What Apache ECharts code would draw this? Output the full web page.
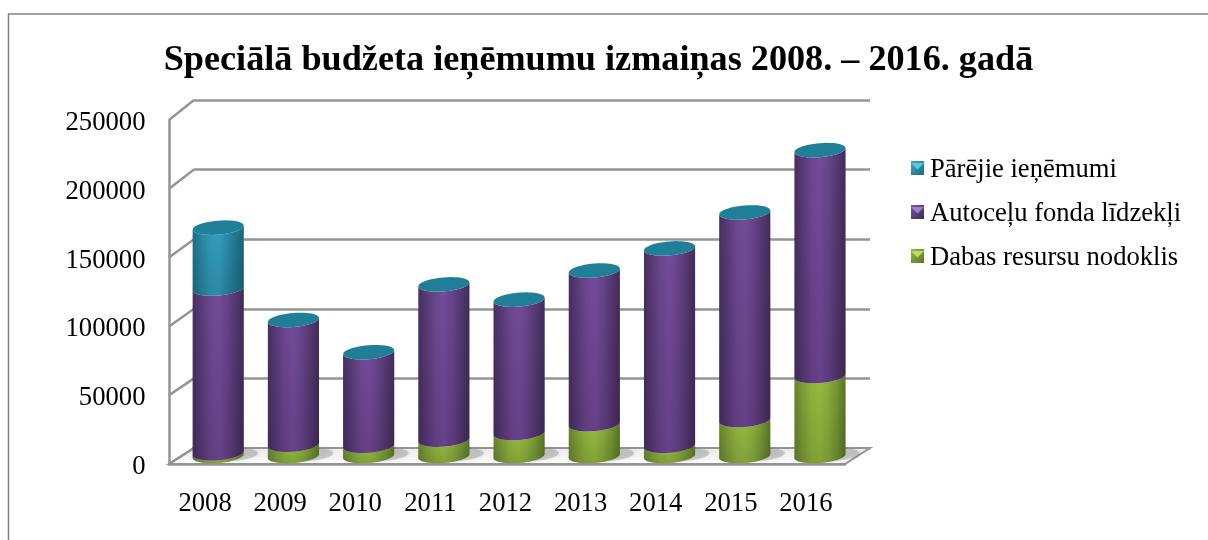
<!DOCTYPE html>
<html><head><meta charset="utf-8">
<style>html,body{margin:0;padding:0;background:#fff}#c{width:1208px;height:540px}</style>
<script src="https://cdn.jsdelivr.net/npm/echarts@6/dist/echarts.min.js"></script>
</head><body><div id="c"></div>
<script>
const years = ['2008','2009','2010','2011','2012','2013','2014','2015','2016'];
const dabas = [2000, 8200, 7400, 11800, 16600, 23000, 7400, 26000, 57800];
const autoceli = [119000, 90100, 67600, 112200, 96400, 111000, 142600, 150000, 163200];
const parejie = [44000, 0, 0, 0, 0, 0, 0, 0, 0];
const NAME_P = 'Pārējie ieņēmumi', NAME_A = 'Autoceļu fonda līdzekļi', NAME_D = 'Dabas resursu nodoklis';
const FONT = '"Liberation Serif","Times New Roman",serif';
const MAX = 250000, GRAY = '#949494';

const grad = (stops) => ({type:'linear',x:0,y:0,x2:1,y2:0,colorStops:stops.map((c,i)=>({offset:i/(stops.length-1),color:c}))});
const PURPLE = grad(['#46305f','#593b78','#6c4790','#744c9a','#67448c','#553870','#412c59']);
const GREEN = grad(['#668530','#7f9f36','#8fb53c','#96bd3f','#8aae3a','#749632','#5a7528']);
const CYAN = grad(['#1f7088','#2787a3','#2f9ab8','#33a0be','#2a8dab','#217a94','#1b6679']);
const CAP = '#1f7f98';

// elliptical arc with a slight shear so the right end sits higher than the left
const RY = 7, TILT = 2;
function arc(cx, cy, a, from, to, n) {
  const pts = [];
  for (let k = 0; k <= n; k++) {
    const t = from + (to - from) * k / n;
    pts.push([cx + a * Math.cos(t), cy + RY * Math.sin(t) - TILT * Math.cos(t)]);
  }
  return pts;
}
function cylinder(fill, capFor) {
  return function (params, api) {
    const i = api.value(0), lo = api.value(1), hi = api.value(2);
    const pLo = api.coord([i, lo]), pHi = api.coord([i, hi]);
    const a = api.size([1, 0])[0] * 0.34;
    const children = [];
    if (hi > lo) {
      const shape = arc(pLo[0], pLo[1], a, 0, Math.PI, 24).concat(arc(pHi[0], pHi[1], a, Math.PI, 0, 24));
      children.push({type:'polygon', shape:{points:shape}, style:{fill:fill}});
      children.push({type:'polygon', shape:{points:shape}, silent:true, style:{fill:{type:'linear',x:0,y:0,x2:0,y2:1,colorStops:[{offset:0,color:'rgba(0,0,0,0)'},{offset:1,color:'rgba(20,0,30,0.14)'}]}}});
    }
    if (capFor && capFor(i)) {
      children.push({type:'polygon', shape:{points:arc(pHi[0], pHi[1], a, 0, Math.PI*2, 48)}, style:{fill:CAP}});
    }
    return {type:'group', children};
  };
}
const seg = (vals, base) => vals.map((v, i) => [i, base[i], base[i] + v]);
const zero = years.map(() => 0);
const b2 = dabas.map((v, i) => v + autoceli[i]);

const chart = echarts.init(document.getElementById('c'), null, {renderer:'canvas'});
const backGrid = {left:194, right:1208-870, top:100, bottom:540-448};
const frontGrid = {left:169, right:1208-845, top:120, bottom:540-464};
const midGrid = {left:180.6, right:1208-857.6, top:110, bottom:540-456};

const legendIcon = (c1, c2) => ({color:{type:'linear',x:0,y:0,x2:1,y2:1,colorStops:[{offset:0,color:c1},{offset:1,color:c2}]}});
const LEG_X = 911, LEG_Y = [163, 207, 251], LEG_LIGHT = ['#5cc6e0','#a07fc4','#bcdc62'];

chart.setOption({
  animation:false,
  backgroundColor:'#fff',
  title:{text:'Speciālā budžeta ieņēmumu izmaiņas 2008. – 2016. gadā', left:593.5, top:38, textAlign:'center',
    textStyle:{fontFamily:FONT, fontWeight:'bold', fontSize:36.2, color:'#000'}},
  legend:{orient:'vertical', left:LEG_X, top:156.5, padding:0, itemWidth:13, itemHeight:14, itemGap:17, icon:'rect', selectedMode:false,
    formatter:n=>'{a|'+n+'}',
    textStyle:{fontFamily:FONT, fontSize:26.6, color:'#000',
      rich:{a:{fontFamily:FONT, fontSize:26.6, color:'#000', padding:[4,0,0,1]}}},
    data:[
      {name:NAME_P, itemStyle:legendIcon('#3aa5c2','#1d6b80')},
      {name:NAME_A, itemStyle:legendIcon('#7a55a0','#3f2a5c')},
      {name:NAME_D, itemStyle:legendIcon('#95bc40','#5b7628')}
    ]},
  graphic:[{type:'rect', silent:true, z:-10, shape:{x:8.5,y:14,width:1400,height:800}, style:{fill:'none',stroke:'#808080',lineWidth:1.5}}]
    .concat(LEG_Y.map((y,i)=>({type:'polygon', silent:true, z:100, shape:{points:[[LEG_X,y],[LEG_X+13,y],[LEG_X+6.5,y+6.5]]}, style:{fill:LEG_LIGHT[i]}}))),
  grid:[backGrid, frontGrid, midGrid],
  xAxis:[
    {gridIndex:0,type:'category',data:years,show:false},
    {gridIndex:1,type:'category',data:years,axisTick:{show:false},axisLine:{show:true,lineStyle:{color:GRAY,width:2.5}},
     axisLabel:{fontFamily:FONT,fontSize:26.67,color:'#000',margin:26,padding:[0,3,0,0]}},
    {gridIndex:2,type:'category',data:years,show:false}
  ],
  yAxis:[
    {gridIndex:0,type:'value',min:0,max:MAX,interval:50000,axisLabel:{show:false},axisLine:{show:false},axisTick:{show:false},
     splitLine:{show:true,lineStyle:{color:GRAY,width:2.5}}},
    {gridIndex:1,type:'value',min:0,max:MAX,interval:50000,splitLine:{show:false},axisTick:{show:false},
     axisLine:{show:true,lineStyle:{color:GRAY,width:2.5}},
     axisLabel:{fontFamily:FONT,fontSize:26.67,color:'#000',margin:23.5,formatter:v=>'{a|'+v+'}',
       rich:{a:{fontFamily:FONT,fontSize:26.67,color:'#000',padding:[6,0,0,0]}}}},
    {gridIndex:2,type:'value',min:0,max:MAX,interval:50000,show:false}
  ],
  series:[
    {type:'custom', name:'floor', xAxisIndex:1, yAxisIndex:1, silent:true, z:1, clip:false, data:[[0,0]],
     renderItem(p, api){
       const s = p.coordSys, L = s.x, R = s.x + s.width, B = s.y + s.height;
       return {type:'polygon', shape:{points:[[L,B],[R,B],[R+25,B-16],[L+25,B-16]]},
         style:{fill:{type:'linear',x:0,y:0,x2:0,y2:1,colorStops:[{offset:0,color:'#e9e9e9'},{offset:1,color:'#ffffff'}]}, stroke:GRAY, lineWidth:2}};
     }},
    {type:'custom', name:'walls', xAxisIndex:1, yAxisIndex:1, silent:true, z:2, clip:false,
     encode:{y:0}, data:[250000,200000,150000,100000,50000,0].map(v=>[v]),
     renderItem(p, api){
       const s = p.coordSys, v = api.value(0);
       const y = api.coord([0, v])[1];
       return {type:'line', shape:{x1:s.x, y1:y, x2:s.x+25, y2:y-(16+4*v/MAX)}, style:{stroke:GRAY, lineWidth:2.5}};
     }},
    {type:'custom', name:'shadow', xAxisIndex:2, yAxisIndex:2, silent:true, z:3, clip:false, data:years.map((_,i)=>[i,0]),
     renderItem(p, api){
       const c = api.coord([api.value(0), 0]);
       return {type:'polygon', shape:{points:arc(c[0]+7, c[1]-1, 33, 0, Math.PI*2, 40)},
         style:{fill:'rgba(110,110,110,0.30)', shadowBlur:5, shadowColor:'rgba(110,110,110,0.4)'}};
     }},
    {type:'custom', name:NAME_D, xAxisIndex:2, yAxisIndex:2, z:4, clip:false, itemStyle:{color:'#96bd3f'},
     encode:{x:0,y:[1,2]}, data:seg(dabas, zero), renderItem:cylinder(GREEN)},
    {type:'custom', name:NAME_A, xAxisIndex:2, yAxisIndex:2, z:5, clip:false, itemStyle:{color:'#744c9a'},
     encode:{x:0,y:[1,2]}, data:seg(autoceli, dabas), renderItem:cylinder(PURPLE)},
    {type:'custom', name:NAME_P, xAxisIndex:2, yAxisIndex:2, z:6, clip:false, itemStyle:{color:'#2f9ab8'},
     encode:{x:0,y:[1,2]}, data:seg(parejie, b2), renderItem:cylinder(CYAN, ()=>true)}
  ]
});
</script></body></html>
